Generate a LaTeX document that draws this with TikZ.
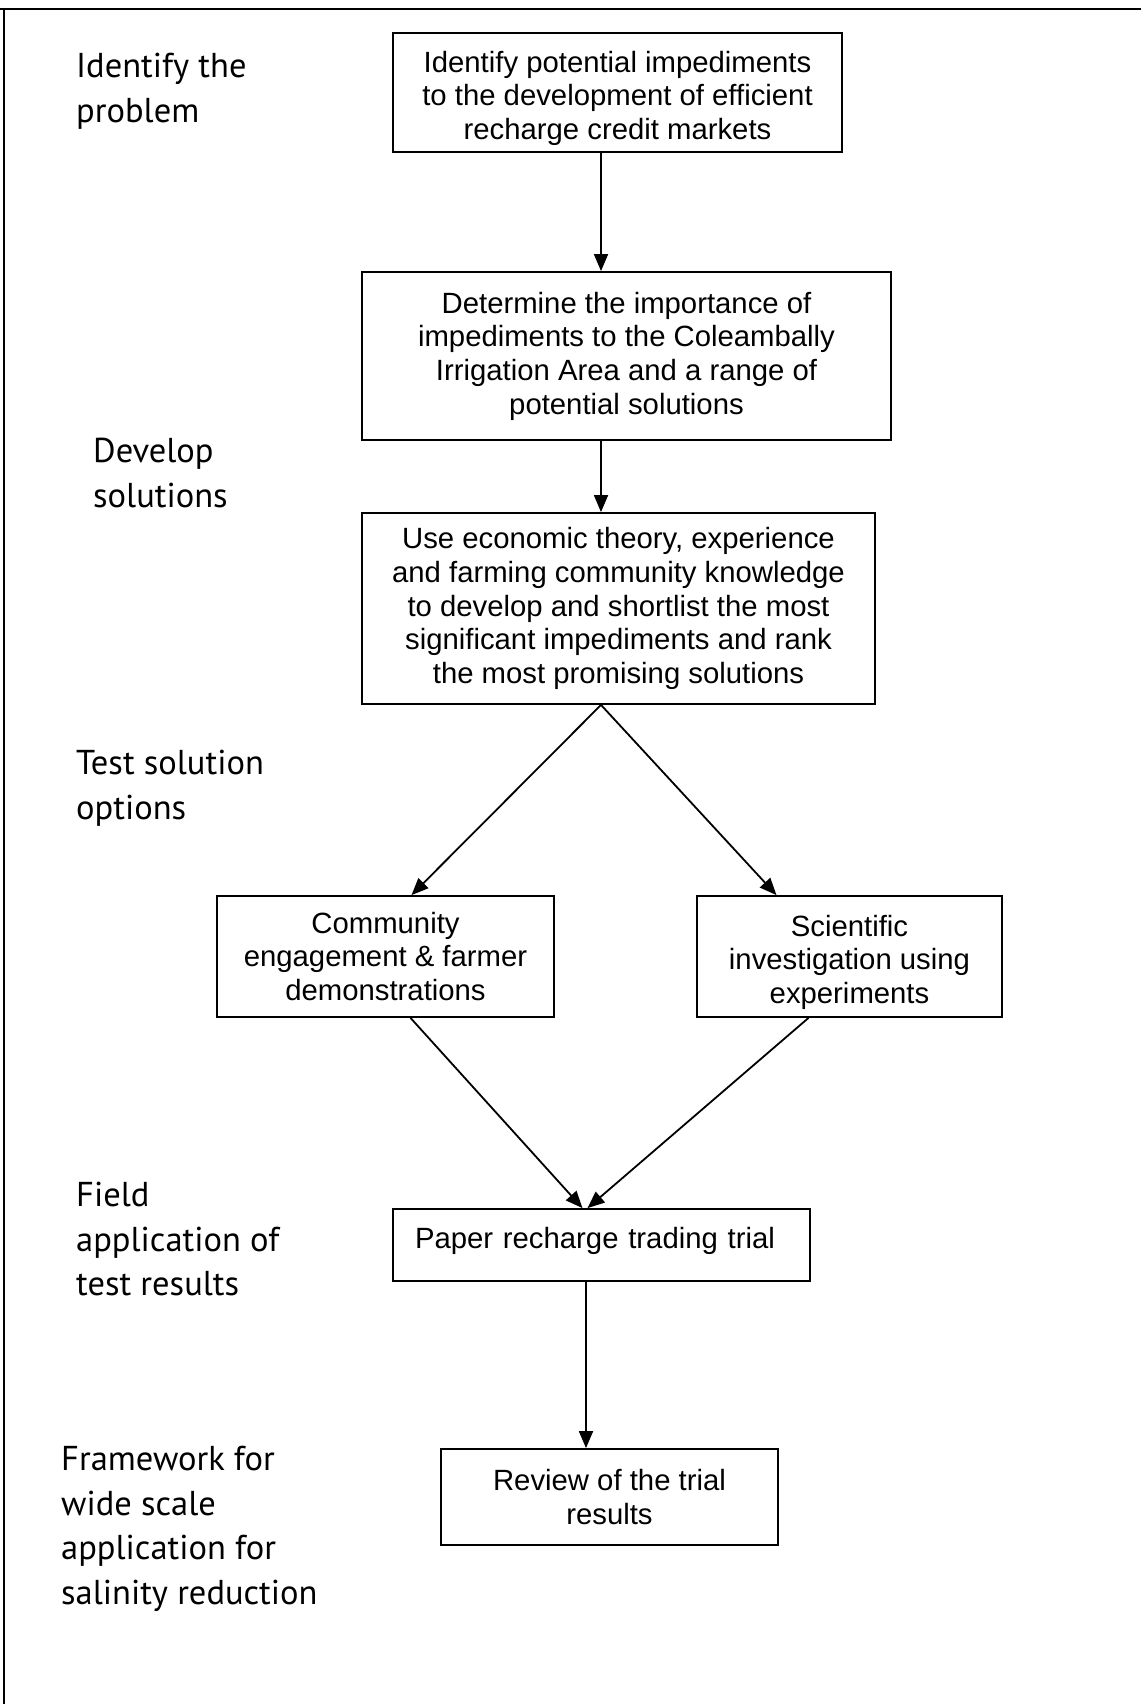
\documentclass[tikz,border=0pt]{standalone}
\usepackage{fontspec}
\setmainfont{Liberation Sans}
\newfontfamily\stagefont{PT Sans}
\usepackage{tikz}
\usetikzlibrary{shapes,arrows.meta,positioning,calc}

\begin{document}
\begin{tikzpicture}[
    x=1pt, y=-1pt,
    font=\fontsize{29.3}{33.7}\selectfont,
    box/.style={rectangle, draw=black, line width=1.8pt, align=center, inner xsep=10pt, inner ysep=0pt},
    stage/.style={anchor=north west, align=left, inner sep=0pt, font=\stagefont\fontsize{34.5}{44.6}\selectfont},
    arrow/.style={-{Triangle[length=17pt,width=14pt]}, line width=1.8pt}
]

\useasboundingbox (0,0) rectangle (1141,1704);

% Frame
\draw[line width=2.5pt] (0,9) -- (1141,9);
\draw[line width=1.8pt] (4,9) -- (4,1704);

% Stages
\node[stage] (problem) at (76,53) {Identify the\\problem};
\node[stage] (develop) at (93,438) {Develop\\solutions};
\node[stage] (test) at (76,750) {Test solution\\options};
\node[stage] (field) at (76,1182) {Field\\application of\\test results};
\node[stage] (framework) at (61,1446) {Framework for\\wide scale\\application for\\salinity reduction};

% Boxes
\node[box, minimum width=449pt, minimum height=119pt, text height=100pt] (identify) at (617.5,92.5) {Identify potential impediments\\to the development of efficient\\recharge credit markets};
\node[box, minimum width=529pt, minimum height=168pt] (importance) at (626.5,356) {Determine the importance of\\impediments to the Coleambally\\Irrigation Area and a range of\\potential solutions};
\node[box, minimum width=513pt, minimum height=191pt] (theory) at (618.5,608.5) {Use economic theory, experience\\and farming community knowledge\\to develop and shortlist the most\\significant impediments and rank\\the most promising solutions};
\node[box, minimum width=337pt, minimum height=121pt] (community) at (385.5,956.5) {Community\\engagement \& farmer\\demonstrations};
\node[box, minimum width=305pt, minimum height=121pt, text height=100pt] (science) at (849.5,956.5) {Scientific\\investigation using\\experiments};
\node[box, text width=373pt, inner xsep=22pt, align=left, minimum height=72pt, text depth=15pt] (trial) at (601.5,1245) {Paper recharge trading trial};
\node[box, minimum width=337pt, minimum height=96pt] (review) at (609.5,1497) {Review of the trial\\results};

% Arrows
\coordinate (spine) at (601,0);
\draw[arrow] (identify.south -| spine) -- (importance.north -| spine);
\draw[arrow] (importance.south -| spine) -- (theory.north -| spine);
\draw[arrow] (theory.south -| spine) -- ([xshift=26pt]community.north);
\draw[arrow] (theory.south -| spine) -- ([xshift=-73pt]science.north);
\draw[arrow] ([xshift=25pt]community.south) -- ([xshift=-19pt]trial.north);
\draw[arrow] ([xshift=-41pt]science.south) -- ([xshift=-14pt]trial.north);
\draw[arrow] ([xshift=-15.5pt]trial.south) -- ([xshift=-23.5pt]review.north);

\end{tikzpicture}
\end{document}
